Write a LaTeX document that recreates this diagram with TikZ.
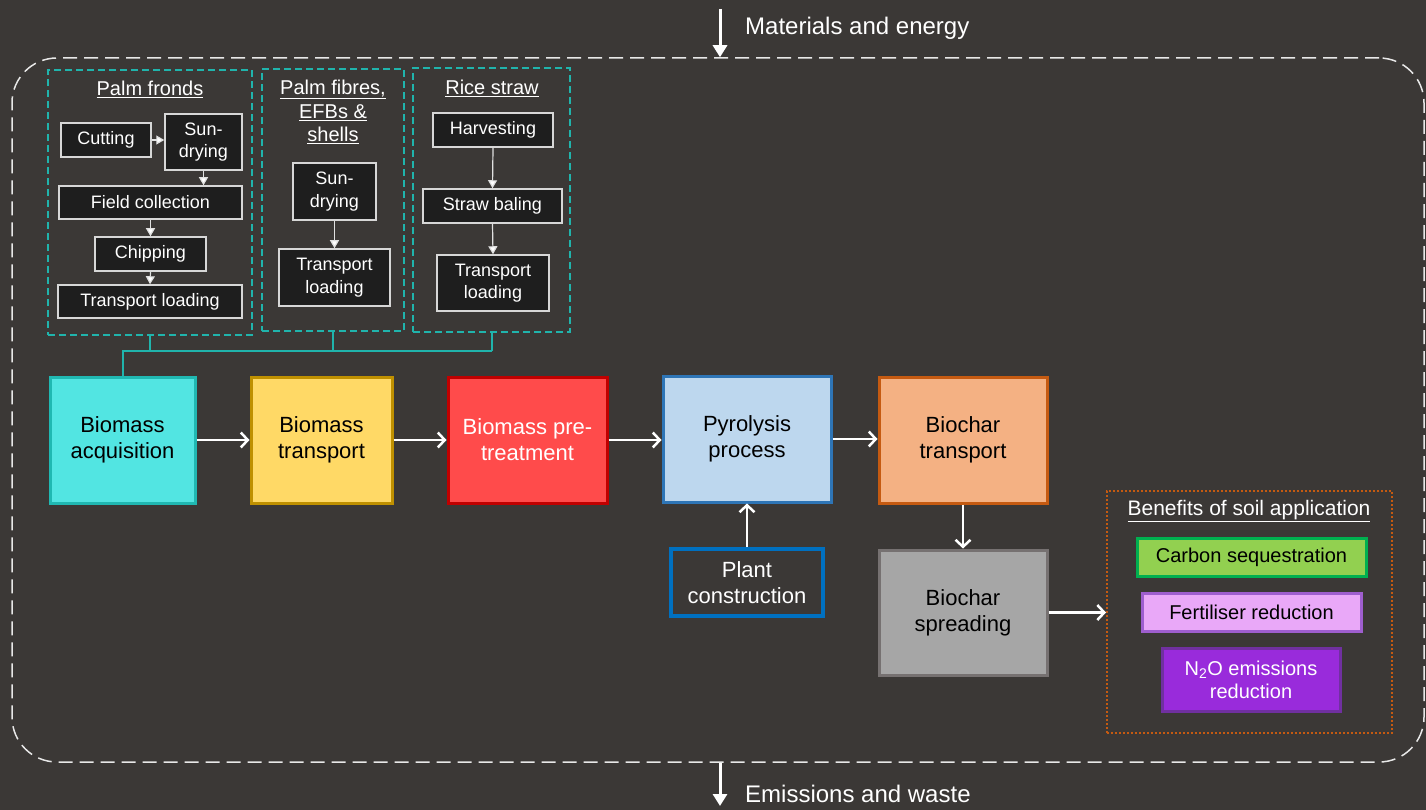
\documentclass[tikz,border=0pt]{standalone}
\usepackage{fontspec}
\setmainfont{Liberation Sans}
\usetikzlibrary{arrows.meta}
\definecolor{bg}{RGB}{59,56,54}
\definecolor{tealline}{RGB}{32,180,172}
\definecolor{ibox}{RGB}{30,30,30}
\definecolor{lgray}{RGB}{215,215,215}
\definecolor{dashw}{RGB}{232,232,232}
\definecolor{acqF}{RGB}{82,229,226}\definecolor{acqD}{RGB}{32,184,178}
\definecolor{btrF}{RGB}{255,217,102}\definecolor{btrD}{RGB}{191,144,0}
\definecolor{preF}{RGB}{255,75,75}\definecolor{preD}{RGB}{192,0,0}
\definecolor{pyrF}{RGB}{189,215,238}\definecolor{pyrD}{RGB}{46,117,182}
\definecolor{bctF}{RGB}{244,177,131}\definecolor{bctD}{RGB}{197,90,17}
\definecolor{plaD}{RGB}{0,112,192}
\definecolor{sprF}{RGB}{166,166,166}\definecolor{sprD}{RGB}{118,113,113}
\definecolor{benD}{RGB}{197,90,17}
\definecolor{carF}{RGB}{146,208,80}\definecolor{carD}{RGB}{0,176,80}
\definecolor{ferF}{RGB}{233,168,248}\definecolor{ferD}{RGB}{158,94,206}
\definecolor{n2oF}{RGB}{153,43,219}\definecolor{n2oD}{RGB}{112,48,160}
\begin{document}
\begin{tikzpicture}[x=1pt,y=-1pt,
  panel/.style={draw=tealline, dash pattern=on 7pt off 4pt, line width=2.5pt, inner sep=0pt},
  ptitle/.style={text=white, font=\fontsize{20}{23.5}\selectfont, align=center, inner sep=0pt},
  sbox/.style={draw=lgray, fill=ibox, line width=1.5pt, text=white, font=\fontsize{18}{22.5}\selectfont, align=center, inner sep=0pt},
  mbox/.style={line width=3pt, font=\fontsize{22}{26}\selectfont, align=center, inner sep=0pt},
  bbox/.style={line width=3pt, font=\fontsize{20}{23}\selectfont, align=center, inner sep=0pt},
  sarr/.style={draw=white!88!black, line width=1.2pt, -{Triangle[length=8pt,width=9pt,fill=white]}},
  marr/.style={draw=white, line width=2.5pt, -{Straight Barb[length=7pt,width=15pt]}},
  bigarr/.style={draw=white, line width=3pt, -{Triangle[length=12pt,width=14pt]}},
  conn/.style={draw=tealline, line width=2pt},
  lbl/.style={text=white, font=\fontsize{24}{28}\selectfont, anchor=west, inner sep=0pt}
]
\useasboundingbox (0,0) rectangle (1426,810);
\fill[bg] (0,0) rectangle (1426,810);

% outer system boundary
\node[draw=dashw, line width=1.5pt, dash pattern=on 14pt off 7pt, rounded corners=45pt,
      minimum width=1412pt, minimum height=704pt, inner sep=0pt] (outer) at (718,410) {};

% inputs / outputs
\coordinate (topin) at (720,9);
\draw[bigarr] (topin) -- (topin |- outer.north);
\node[lbl] (mat) at (745,28) {Materials and energy};
\coordinate (botout) at (720,806);
\draw[bigarr] (botout |- outer.south) -- (botout);
\node[lbl] (emi) at (745,794) {Emissions and waste};

% panels
\node[panel, minimum width=204pt, minimum height=265pt] (pf) at (150,202.5) {};
\node[panel, minimum width=142pt, minimum height=262pt] (pfb) at (333,200) {};
\node[panel, minimum width=157pt, minimum height=264pt] (rs) at (491.5,200) {};

\node[ptitle] (pft) at (150,89) {\underline{Palm fronds}};
\node[ptitle] (pfbt) at (333,112) {\underline{Palm fibres,}\\\underline{EFBs \&}\\\underline{shells}};
\node[ptitle] (rst) at (492,88) {\underline{Rice straw}};

% palm fronds steps
\node[sbox, minimum width=90pt, minimum height=34pt] (cut) at (106,140) {Cutting};
\node[sbox, minimum width=77pt, minimum height=56pt] (sun1) at (203.5,142) {Sun-\\drying};
\node[sbox, minimum width=183pt, minimum height=33pt] (field) at (150.5,202.5) {Field collection};
\node[sbox, minimum width=111pt, minimum height=34pt] (chip) at (150.5,254) {Chipping};
\node[sbox, minimum width=184pt, minimum height=33pt] (tl1) at (150,301.5) {Transport loading};
\draw[sarr] (cut.east) -- (cut.east -| sun1.west);
\draw[sarr] (sun1.south) -- (sun1.south |- field.north);
\draw[sarr] (field.south) -- (chip.north);
\draw[sarr] (chip.south) -- (tl1.north);

% palm fibres steps
\node[sbox, minimum width=83pt, minimum height=57pt] (sun2) at (334.5,191.5) {Sun-\\drying};
\node[sbox, minimum width=111pt, minimum height=57pt] (tl2) at (334.5,277.5) {Transport\\loading};
\draw[sarr] (sun2.south) -- (tl2.north);

% rice straw steps
\node[sbox, minimum width=120pt, minimum height=34pt] (harv) at (493,130) {Harvesting};
\node[sbox, minimum width=139pt, minimum height=34pt] (bale) at (492.5,206) {Straw baling};
\node[sbox, minimum width=112pt, minimum height=56pt] (tl3) at (493,283) {Transport\\loading};
\draw[sarr] (harv.south) -- (bale.north);
\draw[sarr] (bale.south) -- (tl3.north);

% main chain
\node[mbox, fill=acqF, draw=acqD, minimum width=145pt, minimum height=126pt] (acq) at (122.5,440) {Biomass\\acquisition};
\node[mbox, fill=btrF, draw=btrD, minimum width=141pt, minimum height=126pt] (btr) at (321.5,440) {Biomass\\transport};
\node[mbox, fill=preF, draw=preD, text=white, minimum width=159pt, minimum height=126pt] (pre) at (527.5,440) {Biomass pre-\\treatment};
\node[mbox, fill=pyrF, draw=pyrD, minimum width=168pt, minimum height=126pt] (pyr) at (747,439) {Pyrolysis\\process};
\node[mbox, fill=bctF, draw=bctD, minimum width=168pt, minimum height=126pt] (bct) at (963,440) {Biochar\\transport};
\node[mbox, fill=bg, draw=plaD, line width=4pt, text=white, minimum width=152pt, minimum height=67pt] (plant) at (747,582.5) {Plant\\construction};
\node[mbox, fill=sprF, draw=sprD, minimum width=168pt, minimum height=125pt] (spr) at (963,612.5) {Biochar\\spreading};

% feedstock connectors
\coordinate (bus) at (0,351);
\draw[conn] (pf.south) -- (pf.south |- bus);
\draw[conn] (pfb.south) -- (pfb.south |- bus);
\draw[conn] (rs.south) -- (rs.south |- bus);
\draw[conn] (acq.north) -- (acq.north |- bus) -- (rs.south |- bus);

\draw[marr] (acq.east) -- (btr.west);
\draw[marr] (btr.east) -- (pre.west);
\draw[marr] (pre.east) -- (pre.east -| pyr.west);
\draw[marr] (pyr.east) -- (pyr.east -| bct.west);
\draw[marr] (plant.north) -- (pyr.south);
\draw[marr] (bct.south) -- (spr.north);

% benefits
\node[draw=benD, line width=2pt, dash pattern=on 2pt off 2pt, minimum width=285pt, minimum height=242pt, inner sep=0pt] (ben) at (1249.5,612) {};
\node[text=white, font=\fontsize{21}{25}\selectfont, inner sep=0pt] (bent) at (1249,511) {\underline{Benefits of soil application}};
\node[bbox, fill=carF, draw=carD, minimum width=229pt, minimum height=38pt] (car) at (1251.5,557) {Carbon sequestration};
\node[bbox, fill=ferF, draw=ferD, minimum width=219pt, minimum height=38pt] (fer) at (1251.5,612) {Fertiliser reduction};
\node[bbox, fill=n2oF, draw=n2oD, text=white, minimum width=178pt, minimum height=63pt] (n2o) at (1251,679.5) {N\textsubscript{2}O emissions\\reduction};
\draw[marr] (spr.east) -- (spr.east -| ben.west);
\end{tikzpicture}
\end{document}
